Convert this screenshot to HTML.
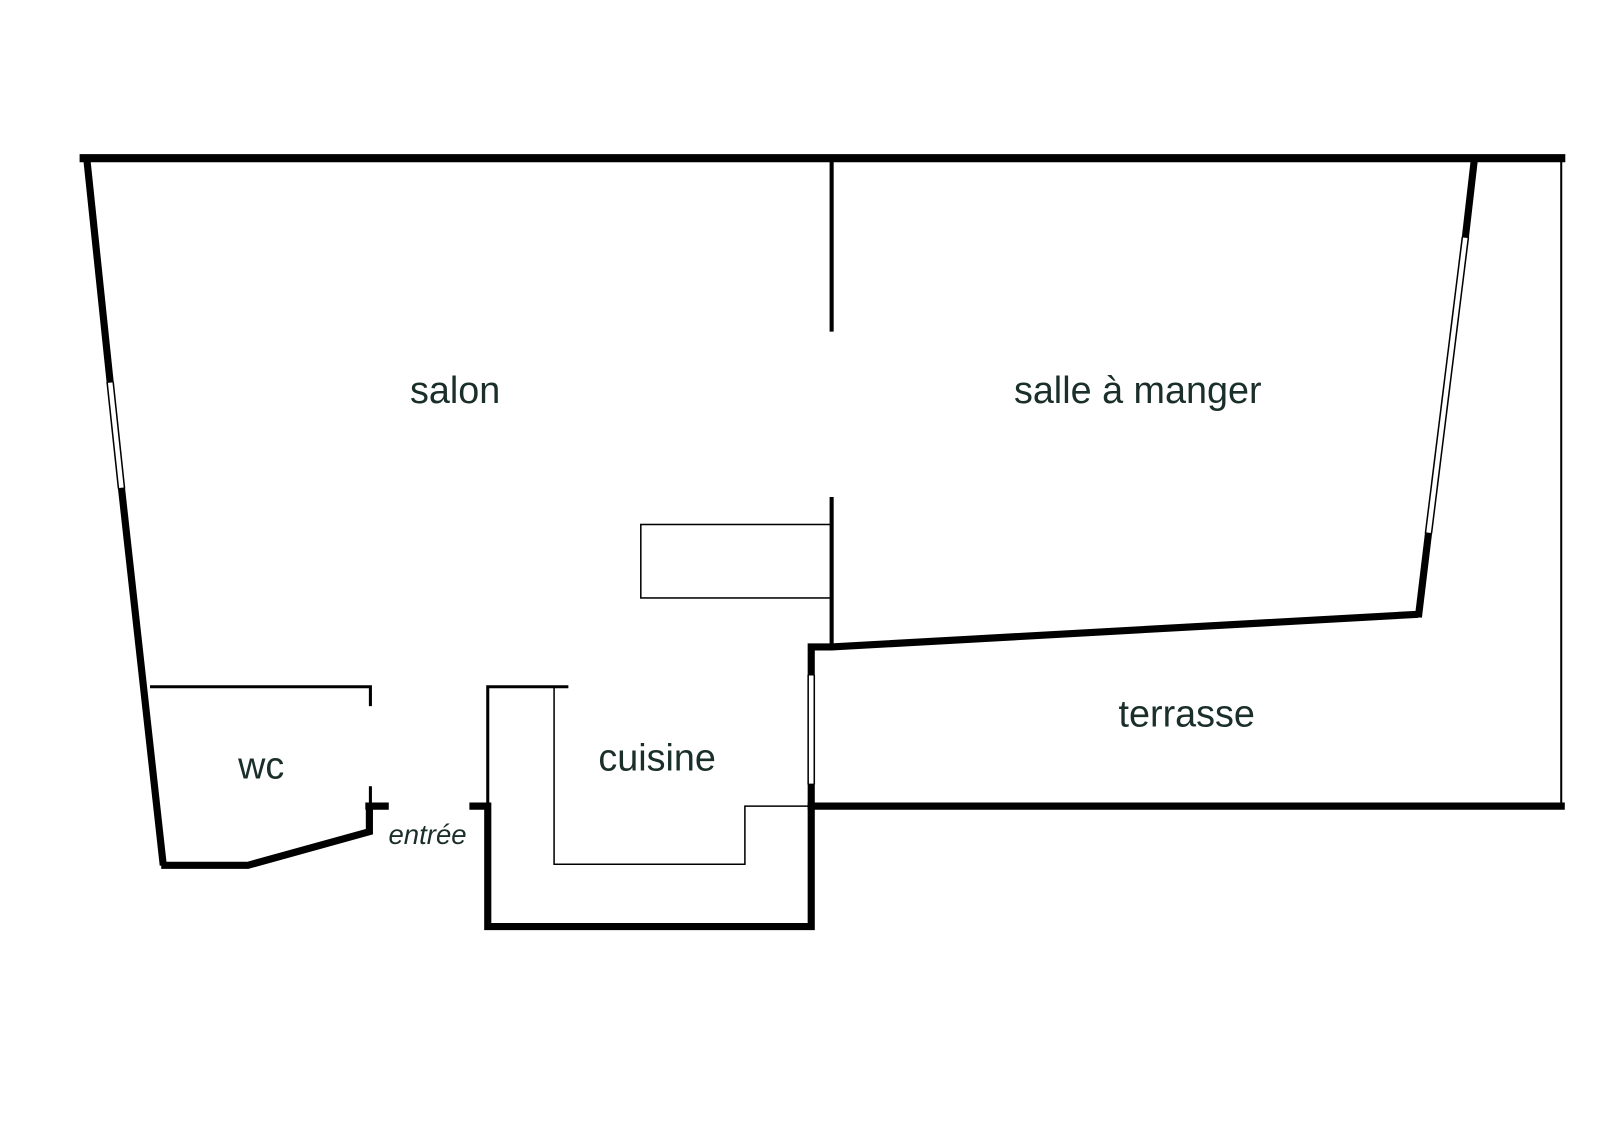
<!DOCTYPE html>
<html><head><meta charset="utf-8"><style>
html,body{margin:0;padding:0;background:#fff;}
svg{display:block;}
text{font-family:"Liberation Sans",sans-serif;fill:#1a2e2a;}
</style></head><body>
<svg width="1600" height="1130" viewBox="0 0 1568 1107.4" xmlns="http://www.w3.org/2000/svg">
<g stroke="#000" fill="none" stroke-linecap="square">
<line x1="82" y1="155" x2="1530" y2="155" stroke-width="8"/>
<line x1="1530" y1="155" x2="1530" y2="790" stroke-width="2"/>
<line x1="85" y1="155" x2="108" y2="375" stroke-width="7" stroke-linecap="butt"/>
<line x1="119" y1="478" x2="160" y2="848" stroke-width="7" stroke-linecap="butt"/>
<line x1="105" y1="375" x2="116" y2="478" stroke-width="1.5"/>
<line x1="111" y1="375" x2="122" y2="478" stroke-width="1.5"/>
<line x1="815" y1="155" x2="815" y2="325" stroke-width="4" stroke-linecap="butt"/>
<line x1="815" y1="487" x2="815" y2="634" stroke-width="4" stroke-linecap="butt"/>
<rect x="628" y="514" width="187" height="72" stroke-width="1.5"/>
<line x1="1445" y1="155" x2="1436" y2="233" stroke-width="7" stroke-linecap="butt"/>
<line x1="1400" y1="522" x2="1390" y2="605" stroke-width="7" stroke-linecap="butt"/>
<line x1="1433" y1="233" x2="1397" y2="522" stroke-width="1.5"/>
<line x1="1439" y1="233" x2="1403" y2="522" stroke-width="1.5"/>
<polyline points="1390,602 815,634 795,634 795,662" stroke-width="7" stroke-linecap="butt" stroke-linejoin="miter"/>
<line x1="792" y1="662" x2="792" y2="768" stroke-width="1.5"/>
<line x1="798" y1="662" x2="798" y2="768" stroke-width="1.5"/>
<line x1="1530" y1="790" x2="795" y2="790" stroke-width="7"/>
<polyline points="795,768 795,908 478,908 478,790 460,790" stroke-width="7" stroke-linecap="butt" stroke-linejoin="miter"/>
<polyline points="478,790 478,673 557,673" stroke-width="3" stroke-linecap="butt"/>
<polyline points="543,673 543,847 730,847 730,790 795,790" stroke-width="1.5"/>
<polyline points="147,673 363,673 363,692" stroke-width="3" stroke-linecap="butt"/>
<line x1="363" y1="772" x2="363" y2="790" stroke-width="3"/>
<line x1="358" y1="790" x2="381" y2="790" stroke-width="7" stroke-linecap="butt"/>
<polyline points="362,790 362,815 243,848 158,848" stroke-width="7" stroke-linecap="butt" stroke-linejoin="miter"/>
</g>
<text x="446" y="395" font-size="37" text-anchor="middle">salon</text>
<text x="1115" y="395" font-size="37" text-anchor="middle">salle à manger</text>
<text x="1163" y="712" font-size="37" text-anchor="middle">terrasse</text>
<text x="644" y="755" font-size="37" text-anchor="middle">cuisine</text>
<text x="256" y="763" font-size="37" text-anchor="middle">wc</text>
<text x="419" y="827" font-size="27" text-anchor="middle" font-style="italic">entrée</text>
</svg>
</body></html>
